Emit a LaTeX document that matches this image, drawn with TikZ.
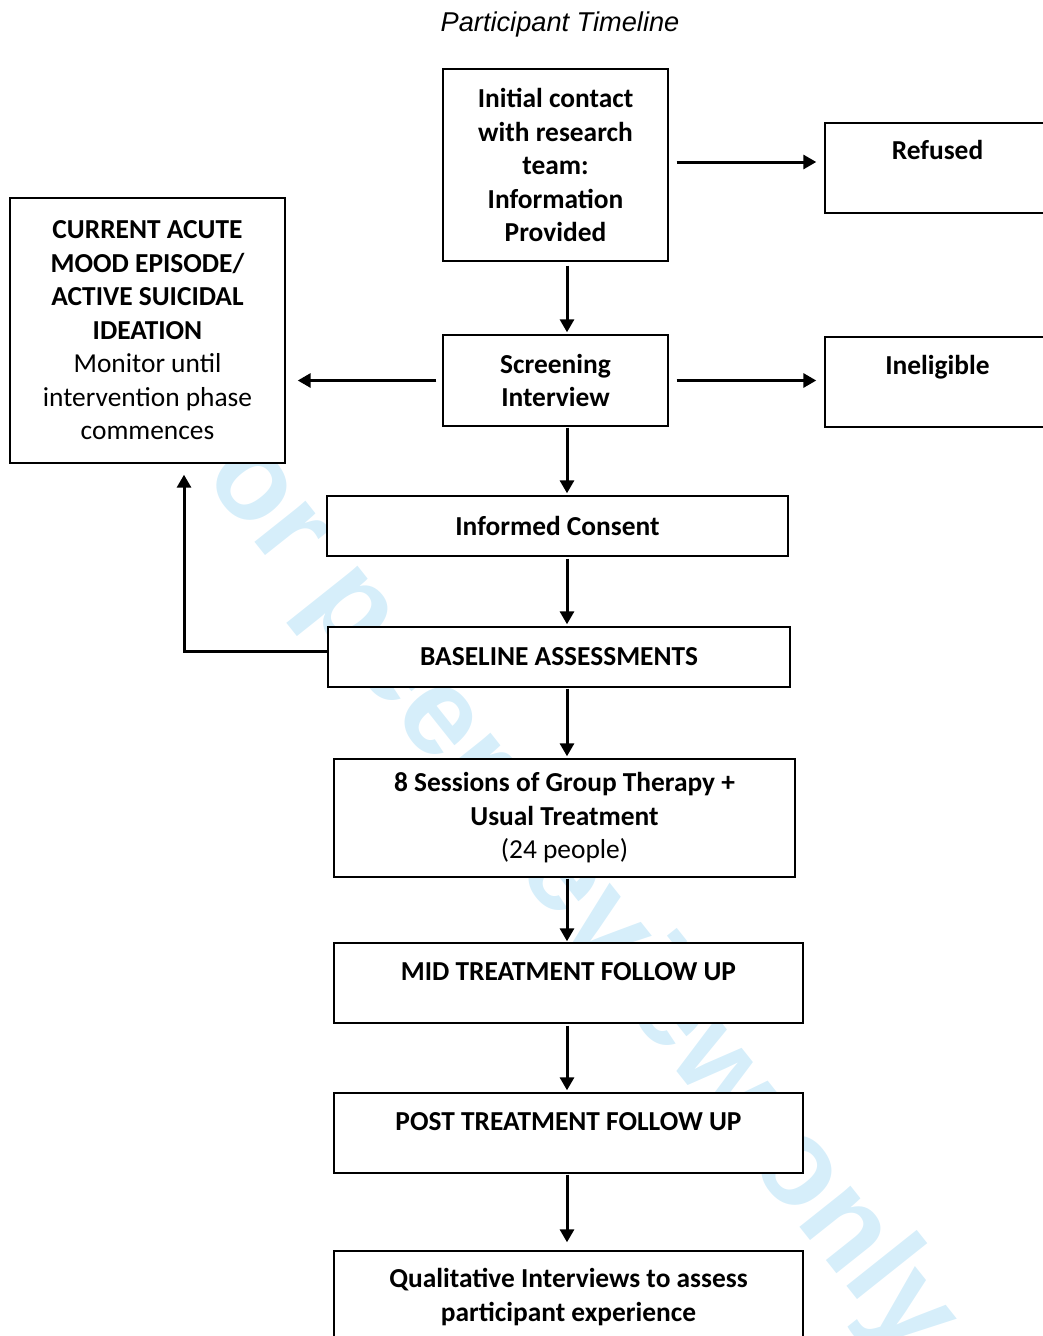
\documentclass[tikz,border=0pt]{standalone}
\usepackage{fontspec}
\setmainfont{Carlito}
\newfontfamily\arialfont{Liberation Sans}
\usepackage{xcolor}
\usepackage{tikz}
\usetikzlibrary{arrows.meta}

\definecolor{stampblue}{RGB}{214,238,250}
\tikzset{
  stage/.style={draw, line width=1.4pt, fill=white, inner sep=0pt, align=center,
    font=\fontsize{27.4}{33.5}\selectfont\bfseries},
  flow/.style={line width=3pt, -{Triangle[length=13pt,width=14pt]}},
}

\begin{document}
\begin{tikzpicture}[x=1pt,y=-1pt]
        \useasboundingbox (0,0) rectangle (1043,1336);
        \clip (0,0) rectangle (1043,1336);

        \node[text=stampblue, rotate=-51.5, font=\arialfont\bfseries\fontsize{124}{124}\selectfont] (stamp) at (556,869) {For peer review only};
        \node[font=\arialfont\itshape\fontsize{27.2}{32}\selectfont] (title) at (560,24) {Participant Timeline};

        \node[stage, minimum width=225pt, minimum height=192pt] (contact) at (555.5,165) {Initial contact\\with research\\team:\\Information\\Provided};
        \node[stage, minimum width=225pt, text height=36pt, text depth=54pt] (refused) at (937.5,168) {Refused};
        \node[stage, minimum width=225pt, minimum height=91pt] (screening) at (555.5,380.5) {Screening\\Interview};
        \node[stage, minimum width=225pt, text height=37pt, text depth=53pt] (ineligible) at (937.5,382) {Ineligible};
        \node[stage, minimum width=275pt, minimum height=265pt] (acute) at (147.5,330.5) {CURRENT ACUTE\\MOOD EPISODE/\\ACTIVE SUICIDAL\\IDEATION\\\textmd{Monitor until}\\\textmd{intervention phase}\\\textmd{commences}};

        \node[stage, minimum width=461pt, minimum height=60pt] (consent) at (557.5,526) {Informed Consent};
        \node[stage, minimum width=462pt, minimum height=60pt] (baseline) at (559,657) {BASELINE ASSESSMENTS};
        \node[stage, minimum width=461pt, minimum height=118pt] (therapy) at (564.5,818) {8 Sessions of Group Therapy +\\Usual Treatment\\\textmd{(24 people)}};
        \node[stage, minimum width=469pt, text height=37pt, text depth=43pt] (midfu) at (568.5,983) {MID TREATMENT FOLLOW UP};
        \node[stage, minimum width=469pt, text height=37pt, text depth=43pt] (postfu) at (568.5,1133) {POST TREATMENT FOLLOW UP};
        \node[stage, minimum width=469pt, minimum height=92pt] (qual) at (568.5,1297) {Qualitative Interviews to assess\\participant experience};

        \coordinate (spine) at (567,0);
        \draw[flow, shorten <=8pt, shorten >=8pt] ([yshift=3pt]contact.east) -- ([yshift=3pt]contact.east -| refused.west);
        \draw[flow, shorten <=4pt, shorten >=2pt] (contact.south -| spine) -- (screening.north -| spine);
        \draw[flow, shorten <=8pt, shorten >=8pt] (screening.east) -- (screening.east -| ineligible.west);
        \draw[flow, shorten <=6pt, shorten >=12pt] (screening.west) -- (screening.west -| acute.east);
        \draw[flow, shorten <=1pt, shorten >=2pt] (screening.south -| spine) -- (consent.north -| spine);
        \draw[flow, shorten <=2pt, shorten >=2pt] (consent.south -| spine) -- (baseline.north -| spine);
        \draw[flow, shorten >=11pt] ([yshift=6pt]baseline.west) -| ([xshift=36.5pt]acute.south);
        \draw[flow, shorten <=1pt, shorten >=2pt] (baseline.south -| spine) -- (therapy.north -| spine);
        \draw[flow, shorten <=1pt, shorten >=1pt] (therapy.south -| spine) -- (midfu.north -| spine);
        \draw[flow, shorten <=2pt, shorten >=2pt] (midfu.south -| spine) -- (postfu.north -| spine);
        \draw[flow, shorten <=1pt, shorten >=8pt] (postfu.south -| spine) -- (qual.north -| spine);
    \end{tikzpicture}
\end{document}
